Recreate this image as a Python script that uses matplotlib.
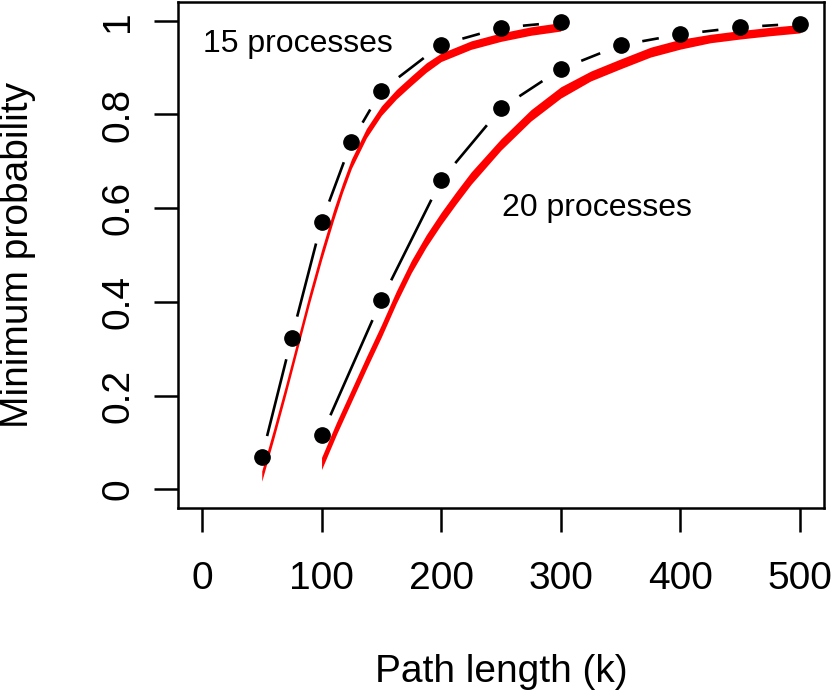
import numpy as np
import matplotlib
matplotlib.use('Agg')
import matplotlib.pyplot as plt

plt.rcParams['font.family'] = ['Liberation Sans', 'DejaVu Sans']

# simulated minimum probability (dots)
x15 = [50, 75, 100, 125, 150, 200, 250, 300]
y15 = [0.068, 0.323, 0.570, 0.742, 0.851, 0.949, 0.985, 0.997]
x20 = [100, 150, 200, 250, 300, 350, 400, 450, 500]
y20 = [0.115, 0.404, 0.660, 0.813, 0.897, 0.948, 0.971, 0.986, 0.994]

# analytic band (red): centre and half width
bx15 = [50, 60, 70, 80, 90, 100, 110, 117.5, 125, 137.5, 150, 162.5, 175, 187.5, 200, 225, 250, 275, 300]
c15 = [0.028, 0.118, 0.212, 0.310, 0.408, 0.500, 0.585, 0.643, 0.695, 0.760, 0.808, 0.843, 0.872, 0.900,
       0.922, 0.948, 0.965, 0.978, 0.987]
h15 = [0.011, 0.011, 0.011, 0.011, 0.011, 0.011, 0.011, 0.010, 0.010, 0.010, 0.010, 0.010, 0.010, 0.010,
       0.009, 0.009, 0.009, 0.009, 0.009]
bx20 = [100, 112.5, 125, 137.5, 150, 162.5, 175, 187.5, 200, 212.5, 225, 250, 275, 300, 325, 350, 375, 400,
        425, 450, 475, 500]
c20 = [0.055, 0.130, 0.200, 0.270, 0.338, 0.410, 0.475, 0.530, 0.578, 0.622, 0.664, 0.736, 0.798, 0.847,
       0.882, 0.908, 0.933, 0.950, 0.962, 0.970, 0.977, 0.983]
h20 = [0.013, 0.013, 0.013, 0.013, 0.013, 0.013, 0.013, 0.013, 0.013, 0.013, 0.013, 0.012, 0.012, 0.012,
       0.0105, 0.0105, 0.0105, 0.0105, 0.009, 0.009, 0.009, 0.009]

xticks = [0, 100, 200, 300, 400, 500]
yticks = [0, 0.2, 0.4, 0.6, 0.8, 1]
ytick_labels = ['0', '0.2', '0.4', '0.6', '0.8', '1']


def gapped_line(ax, xs, ys, gap, **kw):
    # R type="b": segments stop short of each point
    pts = ax.transData.transform(np.column_stack([xs, ys]))
    inv = ax.transData.inverted()
    for p0, p1 in zip(pts[:-1], pts[1:]):
        d = p1 - p0
        L = np.hypot(d[0], d[1])
        if L <= 2 * gap:
            continue
        u = d / L
        a = inv.transform(p0 + u * gap)
        b = inv.transform(p1 - u * gap)
        ax.plot([a[0], b[0]], [a[1], b[1]], **kw)


def visualize():
    fig = plt.figure(figsize=(8.32, 6.95), dpi=100)
    ax = fig.add_axes([178 / 832, 187 / 695, 646 / 832, 506 / 695])
    ax.set_xlim(-20, 520)
    ax.set_ylim(-0.04, 1.04)

    for bx, c, h in [(bx15, c15, h15), (bx20, c20, h20)]:
        c = np.array(c)
        h = np.array(h)
        ax.fill_between(bx, c - h, c + h, color='#ff0000', linewidth=0)

    gapped_line(ax, x15, y15, 22, color='black', lw=1.9, solid_capstyle='butt')
    gapped_line(ax, x20, y20, 22, color='black', lw=1.9, solid_capstyle='butt')
    ax.plot(x15, y15, 'o', color='black', ms=11)
    ax.plot(x20, y20, 'o', color='black', ms=11)

    ax.text(80, 0.95, '15 processes', fontsize=23, ha='center', va='center')
    ax.text(330, 0.6, '20 processes', fontsize=23, ha='center', va='center')

    ax.set_xticks(xticks)
    ax.set_yticks(yticks)
    ax.set_yticklabels(ytick_labels)
    ax.tick_params(length=17, width=1.8, labelsize=28)
    ax.tick_params(axis='x', pad=21)
    ax.tick_params(axis='y', pad=13, labelrotation=90)
    for lab in ax.get_yticklabels():
        lab.set_va('center')
    for s in ax.spines.values():
        s.set_linewidth(1.8)

    fig.text(501 / 832, 1 - 672 / 695, 'Path length (k)', fontsize=28, ha='center', va='center')
    fig.text(18 / 832, 1 - 255 / 695, 'Minimum probability', fontsize=28, ha='center', va='center',
             rotation=90)

    fig.savefig('out.png', dpi=100)


if __name__ == '__main__':
    visualize()
